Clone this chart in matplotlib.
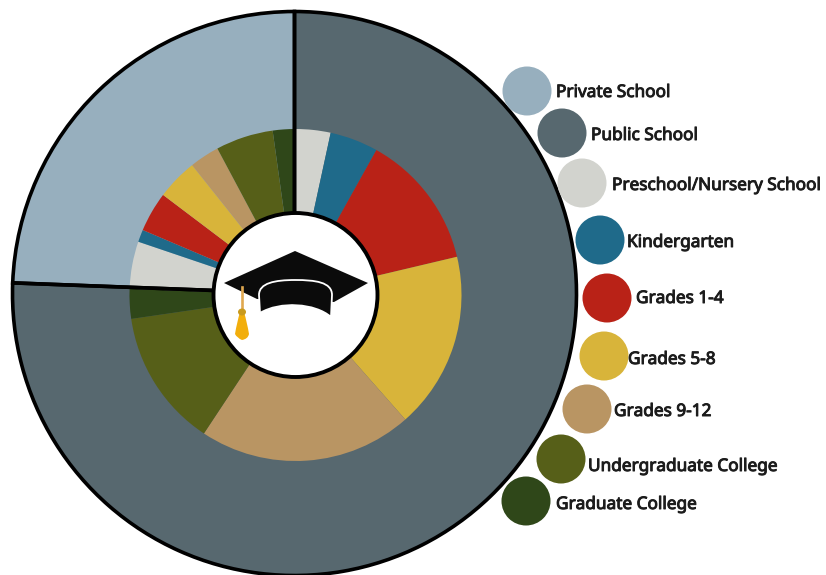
import matplotlib
matplotlib.use("Agg")
import matplotlib.pyplot as plt
import matplotlib.patheffects as pe
from matplotlib.patches import Circle, Ellipse, PathPatch, Polygon
from matplotlib.path import Path

# Datos (porcentaje del total)
labels = ["Private School", "Public School", "Preschool/Nursery School", "Kindergarten",
          "Grades 1-4", "Grades 5-8", "Grades 9-12", "Undergraduate College", "Graduate College"]
tipo_valores = [75.6, 24.4]  # public, private
public_valores = [3.4, 4.7, 13.2, 17.2, 20.8, 13.4, 2.9]
private_valores = [4.6, 1.2, 3.9, 4.0, 2.9, 5.6, 2.2]

# Colores
c_private = "#97afbe"
c_public = "#57686f"
c_grados = ["#d2d3ce", "#1f6a8a", "#b92217", "#d8b43a", "#b99563", "#565f18", "#2f4719"]
c_labels = [c_private, c_public] + c_grados

# Leyenda en pixeles
leg_x = [527, 562, 582, 600, 607, 604, 587, 561, 526]
leg_y = [91, 133, 183, 240, 298, 356, 409, 459, 501]
txt_x = [556, 591, 612, 627, 636, 628, 614, 588, 556]
txt_y = [90, 133, 183, 240, 296, 357, 409, 464, 502]

W, H = 826, 575
cx, cy, R = 294.5, 293.5, 282
m = 290

fig = plt.figure(figsize=(W / 100, H / 100), dpi=100, facecolor="white")

# Anillos
ax = fig.add_axes([(cx - m) / W, (H - cy - m) / H, 2 * m / W, 2 * m / H])

ax.pie(tipo_valores, radius=1, colors=[c_public, c_private], startangle=90, counterclock=False,
       wedgeprops={"linewidth": 0}, frame=True)
centro_in = (1 / R, -1.5 / R)
ax.pie(public_valores + private_valores, radius=166 / R, center=centro_in, colors=c_grados + c_grados,
       startangle=90, counterclock=False, wedgeprops={"linewidth": 0}, frame=True)
# contorno negro encima de los anillos
ax.pie(tipo_valores, radius=1, colors=["none", "none"], startangle=90, counterclock=False,
       wedgeprops={"linewidth": 2.6, "edgecolor": "black"}, frame=True)
ax.add_patch(Circle(centro_in, 82 / R, facecolor="white", edgecolor="black", linewidth=2.8, zorder=5))
ax.set_xlim(-m / R, m / R)
ax.set_ylim(-m / R, m / R)
ax.axis("off")

# Capa en pixeles: leyenda y birrete
ov = fig.add_axes([0, 0, 1, 1])
ov.set_xlim(0, W)
ov.set_ylim(H, 0)
ov.axis("off")
ov.patch.set_alpha(0)

for x, y, c, tx, ty, lab in zip(leg_x, leg_y, c_labels, txt_x, txt_y, labels):
    ov.add_patch(Circle((x, y), 24.5, facecolor=c, edgecolor="none"))
    # Noto Sans no trae negrita aqui, se engorda con un trazo
    ov.text(tx, ty, lab, family="Noto Sans", fontsize=12.4, color="#1c1c1c",
            va="center_baseline", ha="left",
            path_effects=[pe.withStroke(linewidth=0.7, foreground="#1c1c1c")])

# Birrete
ov.add_patch(Polygon([(295, 251), (368, 283), (334, 302), (257, 299), (224, 283)],
                     closed=True, facecolor="#0b0b0b", edgecolor="none", zorder=6))
banda = Path([(260, 313), (259, 295), (259, 283), (275, 280), (295, 280), (315, 280), (332, 282), (332, 295),
              (331, 317), (315, 303), (280, 301), (260, 313), (260, 313)],
             [Path.MOVETO, Path.LINETO, Path.CURVE4, Path.CURVE4, Path.CURVE4, Path.CURVE4, Path.CURVE4, Path.CURVE4,
              Path.LINETO, Path.CURVE4, Path.CURVE4, Path.CURVE4, Path.CLOSEPOLY])
ov.add_patch(PathPatch(banda, facecolor="#0b0b0b", edgecolor="white", linewidth=1.3, zorder=7))
ov.plot([242, 242], [287, 312], color="#e0a850", lw=1.9, zorder=8)
borla = Path([(240, 312), (237, 322), (235, 334), (237, 338), (242, 340), (248, 339), (249, 334), (247, 322), (244, 312),
              (240, 312)],
             [Path.MOVETO, Path.CURVE3, Path.CURVE3, Path.CURVE3, Path.CURVE3, Path.CURVE3, Path.CURVE3, Path.CURVE3,
              Path.CURVE3, Path.CLOSEPOLY])
ov.add_patch(PathPatch(borla, facecolor="#f2ae0c", edgecolor="none", zorder=8))
ov.add_patch(Ellipse((242, 312), 8, 7, facecolor="#c99a1e", edgecolor="none", zorder=9))

fig.savefig("out.png", dpi=100)
